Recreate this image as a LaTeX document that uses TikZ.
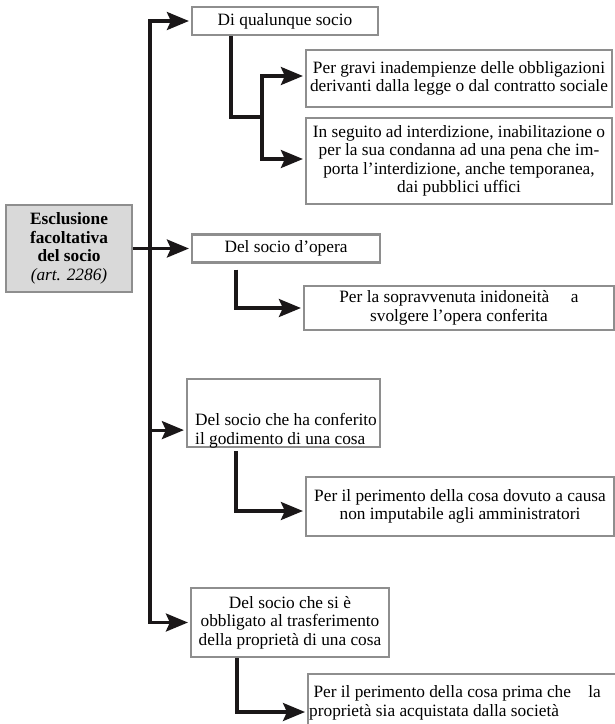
\documentclass[tikz,border=0pt]{standalone}
\usepackage{fontspec}
\setmainfont{Liberation Serif}
\usetikzlibrary{arrows.meta,calc}
\definecolor{boxgray}{HTML}{8E8E8E}
\definecolor{mainfill}{HTML}{D9D9D9}
\definecolor{linecol}{HTML}{1A1718}
\begin{document}
\begin{tikzpicture}[
  txt/.style={font=\fontsize{17.3}{18.5}\selectfont},
  box/.style={txt,draw=boxgray,line width=2.2pt,inner sep=0pt,align=center},
  conn/.style={draw=linecol,line width=3.2pt,shorten >=2pt,-{Stealth[length=22pt,width=18pt,inset=4pt]}},
  plain/.style={draw=linecol,line width=3.2pt}]
\begin{scope}[x=1pt,y=-1pt]
\useasboundingbox (0,0) rectangle (615,724);
\fill[white] (0,0) rectangle (615,724);

\node[box,fill=mainfill,minimum width=126pt,minimum height=87pt] (main) at (69,248.5)
  {\textbf{Esclusione}\\\textbf{facoltativa}\\\textbf{del socio}\\\textit{(art. 2286)}};
\node[box,minimum width=186pt,minimum height=28pt] (b1) at (285,21) {Di qualunque socio};
\node[box,minimum width=306pt,minimum height=57pt] (b2) at (459,78.5)
  {Per gravi inadempienze delle obbligazioni\\derivanti dalla legge o dal contratto sociale};
\node[box,minimum width=306pt,minimum height=86pt] (b3) at (459,161)
  {In seguito ad interdizione, inabilitazione o\\per la sua condanna ad una pena che im-\\porta l'interdizione, anche temporanea,\\dai pubblici uffici};
\node[box,minimum width=188pt,minimum height=28pt] (b4) at (286,248.5) {Del socio d'opera};
\node[box,minimum width=310pt,minimum height=44pt] (b5) at (459,308)
  {Per la sopravvenuta inidoneità\quad\ a\\svolgere l'opera conferita};
\node[box,minimum width=193pt,minimum height=68pt] (b6) at (283.5,413) {};
\node[txt,anchor=west,inner sep=0pt,align=left] (t6) at (195,431)
  {Del socio che ha conferito\\il godimento di una cosa};
\node[box,minimum width=308pt,minimum height=59pt] (b7) at (460,506.5)
  {Per il perimento della cosa dovuto a causa\\non imputabile agli amministratori};
\node[box,minimum width=198pt,minimum height=69pt] (b8) at (290,622.5)
  {Del socio che si è\\obbligato al trasferimento\\della proprietà di una cosa};
\begin{scope}
\clip (0,0) rectangle (615,724);
\node[box,minimum width=308pt,minimum height=70pt,anchor=north west] (b9) at (307,673) {};
\end{scope}
\node[txt,anchor=west,inner sep=0pt,align=left] (t9) at (309,703)
  {\ Per il perimento della cosa prima che\quad la\\proprietà sia acquistata dalla società};

\coordinate (tk) at (150,248.5);
\coordinate (j1) at (262,117);
\draw[conn] (main.east) -- (b4.west);
\draw[conn] (tk) |- (b1.west);
\draw[conn] (tk) |- ($(b6.south west)+(0,-18)$);
\draw[conn] (tk) |- (b8.west);

\draw[plain] ($(b1.south west)+(40,0)$) |- (j1);
\draw[conn] (j1) |- ($(b2.west)+(0,-2.5)$);
\draw[conn] (j1) |- ($(b3.west)+(0,-2)$);

\draw[conn] ($(b4.south west)+(45,6)$) |- (b5.west);
\draw[conn] ($(b6.south west)+(50,3)$) |- ($(b7.west)+(0,4.5)$);
\draw[conn] ($(b8.south west)+(47,0)$) |- ($(b9.north west)+(0,39)$);
\end{scope}
\end{tikzpicture}
\end{document}
